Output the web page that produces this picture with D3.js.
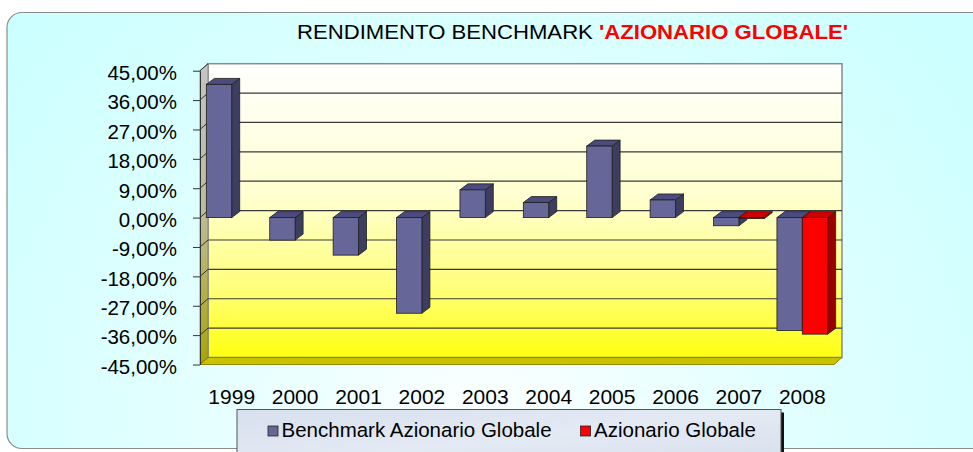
<!DOCTYPE html>
<meta charset="utf-8">
<style>
body { margin: 0; background: #fff; }
text { font-family: "Liberation Sans", Arial, sans-serif; }
</style>
<script src="https://d3js.org/d3.v7.min.js"></script>
<div id="chart"></div>
<script>
// values (percent)
var years = ["1999","2000","2001","2002","2003","2004","2005","2006","2007","2008"];
var benchmark = [40.8, -6.9, -11.5, -29.3, 8.5, 4.6, 21.9, 5.4, -2.5, -34.6];
var fondo = [null, null, null, null, null, null, null, null, -0.3, -35.7];
var yTicks = [45, 36, 27, 18, 9, 0, -9, -18, -27, -36, -45];
var seriesNames = ["Benchmark Azionario Globale", "Azionario Globale"];
var seriesColors = [
  {front: "#666699", top: "#4b4b7d", side: "#3d3d62"},
  {front: "#ff0000", top: "#cc0000", side: "#990000"}
];

var W = 973, H = 452;
var dx = 8, dy = -7;     // depth of the walls
var bdx = 8, bdy = -6;   // depth of the bars

var svg = d3.select("#chart").append("svg")
  .attr("width", W).attr("height", H);

var defs = svg.append("defs");
var bg = defs.append("radialGradient").attr("id", "bg")
  .attr("gradientUnits", "userSpaceOnUse")
  .attr("cx", 480).attr("cy", 452).attr("r", 620);
bg.append("stop").attr("offset", 0).attr("stop-color", "#ffffff");
bg.append("stop").attr("offset", 0.35).attr("stop-color", "#eaffff");
bg.append("stop").attr("offset", 1).attr("stop-color", "#ccffff");

var wall = defs.append("linearGradient").attr("id", "wall")
  .attr("x1", 0).attr("y1", 0).attr("x2", 0).attr("y2", 1);
wall.append("stop").attr("offset", 0).attr("stop-color", "#ffffff");
wall.append("stop").attr("offset", 0.45).attr("stop-color", "#ffffd0");
wall.append("stop").attr("offset", 0.75).attr("stop-color", "#ffff80");
wall.append("stop").attr("offset", 1).attr("stop-color", "#ffff10");

var side = defs.append("linearGradient").attr("id", "sidewall")
  .attr("x1", 0).attr("y1", 0).attr("x2", 0).attr("y2", 1);
side.append("stop").attr("offset", 0).attr("stop-color", "#c4c4c4");
side.append("stop").attr("offset", 0.5).attr("stop-color", "#bcbc98");
side.append("stop").attr("offset", 1).attr("stop-color", "#aaa500");

var leg = defs.append("linearGradient").attr("id", "leg")
  .attr("x1", 0).attr("y1", 0).attr("x2", 1).attr("y2", 1);
leg.append("stop").attr("offset", 0).attr("stop-color", "#d8e0ee");
leg.append("stop").attr("offset", 0.5).attr("stop-color", "#e4eaf4");
leg.append("stop").attr("offset", 1).attr("stop-color", "#d6deec");

// chart area
svg.append("rect")
  .attr("x", 7).attr("y", 12.5).attr("width", 990).attr("height", 436)
  .attr("rx", 15).attr("ry", 15)
  .attr("fill", "url(#bg)").attr("stroke", "#8c8c8c").attr("stroke-width", 1.2);

// title
var title = svg.append("text")
  .attr("x", 297).attr("y", 39)
  .style("font-size", "21px")
  .attr("textLength", 551).attr("lengthAdjust", "spacingAndGlyphs");
title.append("tspan").attr("fill", "#000").text("RENDIMENTO BENCHMARK ");
title.append("tspan").attr("fill", "#ff0000").style("font-weight", "bold").text("'AZIONARIO GLOBALE'");

var y = d3.scaleLinear().domain([-45, 45]).range([364.5, 70.7]);
var x = d3.scaleBand().domain(years).range([200, 834])
  .paddingInner(0.2).paddingOuter(0.1);
var xs = d3.scaleBand().domain([0, 1]).range([0, x.bandwidth()]);

var yTop = y(45), yBot = y(-45), xLeft = x.range()[0], xRight = x.range()[1];

// back wall
svg.append("rect")
  .attr("x", xLeft + dx).attr("y", yTop + dy)
  .attr("width", xRight - xLeft).attr("height", yBot - yTop)
  .attr("fill", "url(#wall)").attr("stroke", "#8a8a8a").attr("stroke-width", 1.5);

// gridlines on the back wall
svg.append("g").selectAll("line").data(yTicks.slice(1, -1)).join("line")
  .attr("x1", xLeft + dx).attr("x2", xRight + dx)
  .attr("y1", function(d) { return y(d) + dy; })
  .attr("y2", function(d) { return y(d) + dy; })
  .attr("stroke", "#3a3a3a").attr("stroke-width", 1.2);

// side wall
svg.append("path")
  .attr("d", "M" + xLeft + "," + yTop + "L" + (xLeft + dx) + "," + (yTop + dy) +
    "L" + (xLeft + dx) + "," + (yBot + dy) + "L" + xLeft + "," + yBot + "Z")
  .attr("fill", "url(#sidewall)").attr("stroke", "#777").attr("stroke-width", 0.8);
svg.append("g").selectAll("line").data(yTicks).join("line")
  .attr("x1", xLeft).attr("x2", xLeft + dx)
  .attr("y1", function(d) { return y(d); })
  .attr("y2", function(d) { return y(d) + dy; })
  .attr("stroke", "#333").attr("stroke-width", 1);

// floor
svg.append("path")
  .attr("d", "M" + xLeft + "," + yBot + "L" + (xLeft + dx) + "," + (yBot + dy) +
    "L" + (xRight + dx) + "," + (yBot + dy) + "L" + xRight + "," + yBot + "Z")
  .attr("fill", "#c9c200").attr("stroke", "#8f8a00").attr("stroke-width", 1);

// bars
var bars = [];
years.forEach(function(yr, i) {
  [benchmark[i], fondo[i]].forEach(function(v, s) {
    if (v !== null) bars.push({year: yr, s: s, v: v});
  });
});

var bar = svg.append("g").selectAll("g").data(bars).join("g");
function geom(d) {
  var x0 = x(d.year) + xs(d.s), x1 = x0 + xs.bandwidth();
  var yt = y(Math.max(d.v, 0)), yb = y(Math.min(d.v, 0));
  return {x0: x0, x1: x1, yt: yt, yb: yb};
}
bar.append("path")
  .attr("d", function(d) {
    var g = geom(d);
    return "M" + g.x1 + "," + g.yt + "L" + (g.x1 + bdx) + "," + (g.yt + bdy) +
      "L" + (g.x1 + bdx) + "," + (g.yb + bdy) + "L" + g.x1 + "," + g.yb + "Z";
  })
  .attr("fill", function(d) { return seriesColors[d.s].side; })
  .attr("stroke", "#1e1e1e").attr("stroke-width", 0.8).attr("stroke-linejoin", "round");
bar.append("path")
  .attr("d", function(d) {
    var g = geom(d);
    return "M" + g.x0 + "," + g.yt + "L" + (g.x0 + bdx) + "," + (g.yt + bdy) +
      "L" + (g.x1 + bdx) + "," + (g.yt + bdy) + "L" + g.x1 + "," + g.yt + "Z";
  })
  .attr("fill", function(d) { return seriesColors[d.s].top; })
  .attr("stroke", "#1e1e1e").attr("stroke-width", 0.8).attr("stroke-linejoin", "round");
bar.append("rect")
  .attr("x", function(d) { return geom(d).x0; })
  .attr("y", function(d) { return geom(d).yt; })
  .attr("width", xs.bandwidth())
  .attr("height", function(d) { var g = geom(d); return Math.max(g.yb - g.yt, 0.5); })
  .attr("fill", function(d) { return seriesColors[d.s].front; })
  .attr("stroke", "#1e1e1e").attr("stroke-width", 0.8);

// axes
var yAxis = svg.append("g")
  .attr("transform", "translate(" + xLeft + ",0)")
  .call(d3.axisLeft(y).tickValues(yTicks).tickSize(7).tickSizeOuter(0).tickPadding(16)
    .tickFormat(function(d) { return d.toFixed(2).replace(".", ",") + "%"; }));
yAxis.select(".domain").attr("stroke", "#333");
yAxis.selectAll(".tick line").attr("stroke", "#333");
yAxis.selectAll("text").style("font-size", "20.5px").attr("fill", "#000").attr("dy", "0.43em");

var xAxis = svg.append("g")
  .attr("transform", "translate(0," + yBot + ")")
  .call(d3.axisBottom(x).tickSize(0).tickPadding(24.5));
xAxis.select(".domain").remove();
xAxis.selectAll("text").style("font-size", "21px").attr("fill", "#000");

// legend
var lx = 237, ly = 409.5, lw = 544, lh = 60;
svg.append("rect").attr("x", lx + 3).attr("y", ly + 3).attr("width", lw).attr("height", lh)
  .attr("fill", "#111");
svg.append("rect").attr("x", lx).attr("y", ly).attr("width", lw).attr("height", lh)
  .attr("fill", "url(#leg)").attr("stroke", "#555").attr("stroke-width", 1);

var item = svg.append("g").selectAll("g").data(seriesNames).join("g");
item.append("rect")
  .attr("width", 10).attr("height", 10).attr("y", 426)
  .attr("fill", function(d, i) { return seriesColors[i].front; })
  .attr("stroke", "#222").attr("stroke-width", 0.8);
item.append("text")
  .attr("y", 437).style("font-size", "20.5px").attr("fill", "#000")
  .text(function(d) { return d; });
var cx = 268;
item.each(function() {
  var g = d3.select(this);
  g.select("rect").attr("x", cx);
  g.select("text").attr("x", cx + 13.5);
  cx += 13.5 + g.select("text").node().getComputedTextLength() + 29;
});
</script>
